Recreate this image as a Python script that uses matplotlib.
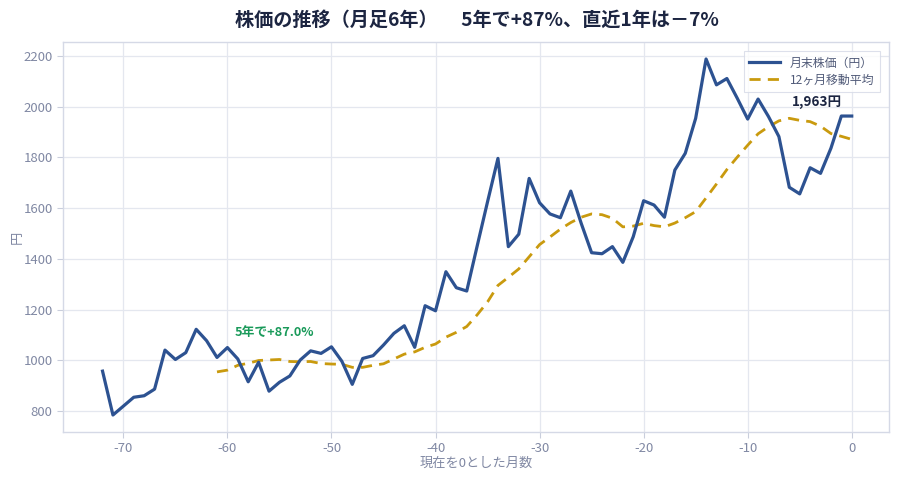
import matplotlib
matplotlib.use("Agg")
import matplotlib.pyplot as plt

plt.rcParams['font.family'] = ['Noto Sans CJK JP', 'DejaVu Sans']
plt.rcParams['axes.unicode_minus'] = False

months = list(range(-72, 1))
price = [957, 784, 819, 854, 860, 886, 1040, 1003, 1030, 1122, 1077, 1011,
         1050, 1005, 915, 992, 878, 913, 938, 1001, 1037, 1027, 1053, 996,
         905, 1007, 1018, 1060, 1106, 1136, 1051, 1215, 1195, 1349, 1286, 1273,
         1450, 1625, 1796, 1448, 1497, 1717, 1621, 1577, 1562, 1667, 1540, 1424,
         1420, 1448, 1386, 1487, 1629, 1612, 1564, 1750, 1816, 1954, 2188, 2086,
         2111, 2033, 1951, 2030, 1961, 1882, 1682, 1656, 1759, 1737, 1836, 1963,
         1963]
ma_months = list(range(-61, 1))
ma12 = [954, 961, 980, 988, 999, 1001, 1003, 995, 994, 995, 987, 985,
        984, 972, 972, 980, 986, 1005, 1024, 1033, 1051, 1064, 1091, 1110,
        1133, 1179, 1230, 1295, 1327, 1360, 1408, 1456, 1486, 1517, 1543, 1564,
        1577, 1574, 1560, 1526, 1529, 1540, 1531, 1526, 1541, 1562, 1586, 1640,
        1695, 1752, 1801, 1848, 1893, 1921, 1944, 1954, 1946, 1941, 1923, 1894,
        1883, 1871]
xticks = [-70, -60, -50, -40, -30, -20, -10, 0]
yticks = [800, 1000, 1200, 1400, 1600, 1800, 2000, 2200]

title = "株価の推移（月足6年）　 5年で+87%、直近1年は－7%"
label_price = "月末株価（円）"
label_ma = "12ヶ月移動平均"
note_5y = "5年で+87.0%"
note_last = "1,963円"

BLUE = "#2d5291"
GOLD = "#c99a0e"
GRID = "#e4e7ef"
TICK = "#8088a3"
NAVY = "#1c2541"

fig = plt.figure(figsize=(9, 4.8), dpi=100)
ax = fig.add_axes([0.07, 0.1, 0.918, 0.8125])

ax.plot(months, price, color=BLUE, lw=2.3, label=label_price, zorder=3)
ax.plot(ma_months, ma12, color=GOLD, lw=2.0, ls=(0, (4, 2.6)), label=label_ma, zorder=2)

ax.set_xlim(-75.8, 3.6)
ax.set_ylim(717, 2255)
ax.set_xticks(xticks)
ax.set_yticks(yticks)
ax.grid(True, color=GRID, lw=0.9)
ax.set_axisbelow(True)
for s in ax.spines.values():
    s.set_color("#d5d9e6")
    s.set_linewidth(1.0)
ax.tick_params(axis='both', colors="#c9cedc", labelcolor=TICK, labelsize=9.5, length=4, width=0.8)

ax.set_xlabel("現在を0とした月数", color=TICK, fontsize=9.5, labelpad=1)
ax.set_ylabel("円", color=TICK, fontsize=9.5, labelpad=0)

fig.text(0.53, 0.957, title, ha='center', va='center', fontsize=13.8,
         fontweight='bold', color=NAVY)

ax.text(-55.5, 1111, note_5y, ha='center', va='center', fontsize=9.2,
        fontweight='bold', color="#1a9a5a")
ax.text(-3.3, 2020, note_last, ha='center', va='center', fontsize=9.8,
        fontweight='bold', color=NAVY)

leg = ax.legend(loc='upper right', fontsize=8.6, frameon=True, fancybox=False,
                borderpad=0.45, handlelength=2.6, labelspacing=0.35,
                bbox_to_anchor=(0.996, 0.992))
leg.get_frame().set_edgecolor("#d5d9e6")
leg.get_frame().set_linewidth(0.8)
for t in leg.get_texts():
    t.set_color("#505a78")

fig.savefig("out.png", dpi=100, facecolor="white")
